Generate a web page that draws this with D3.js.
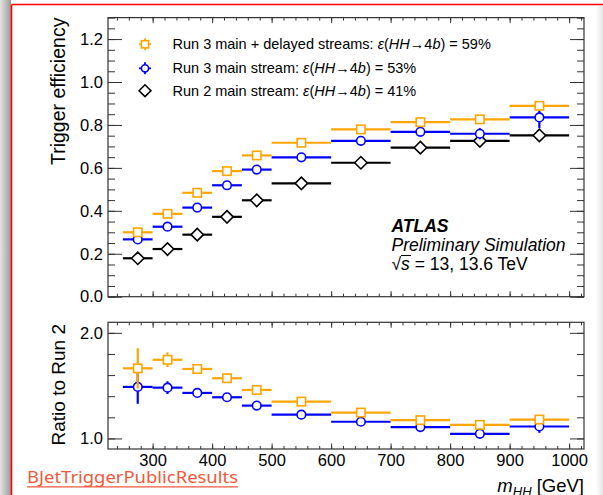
<!DOCTYPE html>
<html><head><meta charset="utf-8">
<script src="https://cdn.jsdelivr.net/npm/d3@7"></script>
<style>body{margin:0;background:#fff}svg{display:block}</style>
</head><body>
<script>
// ---- data ----
const binLo   = [250,300,350,400,450,500,600,700,800,900];
const binHi   = [300,350,400,450,500,600,700,800,900,1000];
const effRun3Delayed = [0.300,0.386,0.484,0.585,0.658,0.717,0.779,0.813,0.826,0.889];
const effRun3Main    = [0.267,0.326,0.415,0.519,0.592,0.649,0.726,0.768,0.759,0.835];
const effRun2Main    = [0.179,0.222,0.289,0.372,0.449,0.528,0.624,0.694,0.726,0.751];
const errRun3Delayed = [0.012,0.010,0.010,0.010,0.010,0.010,0.012,0.014,0.016,0.022];
const errRun3Main    = [0.012,0.010,0.010,0.010,0.010,0.010,0.012,0.014,0.026,0.050];
const errRun2Main    = [0.008,0.008,0.008,0.008,0.008,0.008,0.010,0.012,0.015,0.018];
const ratioDelayed   = [1.664,1.745,1.658,1.570,1.459,1.349,1.245,1.173,1.129,1.179];
const ratioMain      = [1.488,1.481,1.431,1.390,1.311,1.225,1.158,1.108,1.044,1.113];
const errRatioDelayed= [0.190,0.070,0.025,0.020,0.020,0.015,0.015,0.018,0.020,0.030];
const errRatioMain   = [0.160,0.060,0.020,0.020,0.018,0.015,0.015,0.018,0.025,0.060];
const legendLabels = ["Run 3 main + delayed streams: ", "Run 3 main stream: ", "Run 2 main stream: "];
const legendEff = ["59%","53%","41%"];
const xTicks = [300,400,500,600,700,800,900,1000];
const yTopTicks = [0,0.2,0.4,0.6,0.8,1.0,1.2];
const yBotTicks = [1.0,2.0];

const ORANGE = "#ffa500", BLUE = "#0000ff", BLACK = "#000000";
const W = 603, H = 495;
const svg = d3.select("body").append("svg").attr("width",W).attr("height",H)
  .style("font-family","'Liberation Sans', Arial, Helvetica, sans-serif");

// background frame decorations
const defs = svg.append("defs");
const g1 = defs.append("linearGradient").attr("id","shadeL").attr("x1",0).attr("x2",1).attr("y1",0).attr("y2",0);
g1.append("stop").attr("offset","0%").attr("stop-color","#e4e4e4");
g1.append("stop").attr("offset","100%").attr("stop-color","#9a9a9a");
svg.append("rect").attr("x",0).attr("y",0).attr("width",11).attr("height",H).attr("fill","url(#shadeL)");
const g2 = defs.append("linearGradient").attr("id","shadeR").attr("x1",0).attr("x2",1).attr("y1",0).attr("y2",0);
g2.append("stop").attr("offset","0%").attr("stop-color","#ffffff");
g2.append("stop").attr("offset","100%").attr("stop-color","#e6e6e6");
svg.append("rect").attr("x",596).attr("y",6).attr("width",7).attr("height",H).attr("fill","url(#shadeR)");
svg.append("line").attr("x1",11.5).attr("x2",11.5).attr("y1",4.5).attr("y2",H).attr("stroke","#ff0000").attr("stroke-width",1.6);
svg.append("line").attr("x1",11.5).attr("x2",W).attr("y1",4.5).attr("y2",4.5).attr("stroke","#ff0000").attr("stroke-width",1.6);

// scales
const x = d3.scaleLinear().domain([225,1025]).range([108,584]);
const yT = d3.scaleLinear().domain([0,1.3]).range([296.7,17.6]);
const yB = d3.scaleLinear().domain([0.9,2.1]).range([449,322.3]);

function frameAxes(y, top, bottom, yMajor, yMinorStep, yDom, showXLabels){
  const gA = svg.append("g");
  const xMinor = d3.range(240, 1025, 20);
  const yMinor = d3.range(yDom[0], yDom[1]+1e-9, yMinorStep).map(v=>+v.toFixed(3));
  gA.append("g").attr("transform",`translate(0,${bottom})`)
    .call(d3.axisTop(x).tickValues(xMinor).tickSize(3).tickFormat(""));
  gA.append("g").attr("transform",`translate(0,${bottom})`)
    .call(d3.axisTop(x).tickValues(xTicks).tickSize(5.5).tickFormat(""));
  gA.append("g").attr("transform",`translate(0,${top})`)
    .call(d3.axisBottom(x).tickValues(xMinor).tickSize(3).tickFormat(""));
  gA.append("g").attr("transform",`translate(0,${top})`)
    .call(d3.axisBottom(x).tickValues(xTicks).tickSize(5.5).tickFormat(""));
  gA.append("g").attr("transform",`translate(108,0)`)
    .call(d3.axisRight(y).tickValues(yMinor).tickSize(7).tickFormat(""));
  gA.append("g").attr("transform",`translate(108,0)`)
    .call(d3.axisRight(y).tickValues(yMajor).tickSize(14).tickFormat(""));
  gA.append("g").attr("transform",`translate(584,0)`)
    .call(d3.axisLeft(y).tickValues(yMinor).tickSize(7).tickFormat(""));
  gA.append("g").attr("transform",`translate(584,0)`)
    .call(d3.axisLeft(y).tickValues(yMajor).tickSize(14).tickFormat(""));
  gA.selectAll(".domain").remove();
  gA.selectAll("line").attr("stroke","#333").attr("stroke-width",1);
  gA.append("g").attr("transform",`translate(108,0)`)
    .call(d3.axisLeft(y).tickValues(yMajor).tickSize(0).tickPadding(5).tickFormat(d3.format(".1f")))
    .call(g=>g.select(".domain").remove())
    .selectAll("text").attr("font-size",16.5).attr("fill","#000").attr("font-family","'Liberation Sans', Arial, sans-serif");
  if(showXLabels){
    gA.append("g").attr("transform",`translate(0,${bottom})`)
      .call(d3.axisBottom(x).tickValues(xTicks).tickSize(0).tickPadding(5).tickFormat(d3.format("d")))
      .call(g=>g.select(".domain").remove())
      .selectAll("text").attr("font-size",16.5).attr("fill","#000").attr("font-family","'Liberation Sans', Arial, sans-serif");
  }
  svg.append("rect").attr("x",108).attr("y",top).attr("width",584-108).attr("height",bottom-top)
    .attr("fill","none").attr("stroke","#333").attr("stroke-width",1.2);
}

frameAxes(yT, 17.6, 296.7, yTopTicks, 0.05, [0,1.3], false);
frameAxes(yB, 322.3, 449, yBotTicks, 0.2, [1.0,2.0], true);

function marker(g, type, cx, cy, color, s){
  if(type==="square"){
    g.append("rect").attr("x",cx-s).attr("y",cy-s).attr("width",2*s).attr("height",2*s)
      .attr("fill","#fff").attr("stroke",color).attr("stroke-width",1.6);
  } else if(type==="circle"){
    g.append("circle").attr("cx",cx).attr("cy",cy).attr("r",s)
      .attr("fill","#fff").attr("stroke",color).attr("stroke-width",1.6);
  } else {
    const d = s*1.35;
    g.append("path").attr("d",`M${cx-d},${cy}L${cx},${cy-d}L${cx+d},${cy}L${cx},${cy+d}Z`)
      .attr("fill","#fff").attr("stroke",color).attr("stroke-width",1.6);
  }
}

function series(y, vals, errs, color, type, s){
  const g = svg.append("g");
  vals.forEach((v,i)=>{
    const xc = x((binLo[i]+binHi[i])/2);
    g.append("line").attr("x1",x(binLo[i])).attr("x2",x(binHi[i])).attr("y1",y(v)).attr("y2",y(v))
      .attr("stroke",color).attr("stroke-width",2.2);
    g.append("line").attr("x1",xc).attr("x2",xc).attr("y1",y(v-errs[i])).attr("y2",y(v+errs[i]))
      .attr("stroke",color).attr("stroke-width",2.2);
  });
  vals.forEach((v,i)=>{
    marker(g, type, x((binLo[i]+binHi[i])/2), y(v), color, s);
  });
}

series(yT, effRun2Main, errRun2Main, BLACK, "diamond", 4.6);
series(yT, effRun3Main, errRun3Main, BLUE, "circle", 4.3);
series(yT, effRun3Delayed, errRun3Delayed, ORANGE, "square", 4.2);
series(yB, ratioMain, errRatioMain, BLUE, "circle", 4.3);
series(yB, ratioDelayed, errRatioDelayed, ORANGE, "square", 4.2);

// legend
const legColors = [ORANGE, BLUE, BLACK], legTypes = ["square","circle","diamond"];
const legY = [44.3, 68.3, 90.7];
legendLabels.forEach((lab,i)=>{
  const g = svg.append("g");
  const cx = 145, cy = legY[i];
  if(i<2){
    g.append("line").attr("x1",cx-6).attr("x2",cx+6).attr("y1",cy).attr("y2",cy).attr("stroke",legColors[i]).attr("stroke-width",1.8);
    g.append("line").attr("x1",cx).attr("x2",cx).attr("y1",cy-6).attr("y2",cy+6).attr("stroke",legColors[i]).attr("stroke-width",1.8);
  }
  marker(g, legTypes[i], cx, cy, legColors[i], i===2?4.4:3.6);
  const t = g.append("text").attr("x",172.5).attr("y",cy+5).attr("font-size",14.5).attr("fill","#000");
  t.append("tspan").text(lab);
  t.append("tspan").attr("font-style","italic").text("ε");
  t.append("tspan").text("(");
  t.append("tspan").attr("font-style","italic").text("HH");
  t.append("tspan").text("→4");
  t.append("tspan").attr("font-style","italic").text("b");
  t.append("tspan").text(") = " + legendEff[i]);
});

// ATLAS label
svg.append("text").attr("x",391.5).attr("y",232).attr("font-size",17.5).attr("font-weight","bold")
  .attr("font-style","italic").text("ATLAS");
svg.append("text").attr("x",391.5).attr("y",251).attr("font-size",17.5).attr("font-style","italic")
  .text("Preliminary Simulation");
const sq = svg.append("text").attr("x",391.5).attr("y",270).attr("font-size",17.5);
sq.append("tspan").text("√");
sq.append("tspan").attr("font-style","italic").text("s");
sq.append("tspan").text(" = 13, 13.6 TeV");
svg.append("line").attr("x1",401).attr("x2",411).attr("y1",255.5).attr("y2",255.5).attr("stroke","#000").attr("stroke-width",1);

// axis titles
svg.append("text").attr("transform","translate(65,17.6) rotate(-90)").attr("text-anchor","end")
  .attr("font-size",19.5).text("Trigger efficiency");
svg.append("text").attr("transform","translate(65,324) rotate(-90)").attr("text-anchor","end")
  .attr("font-size",19).text("Ratio to Run 2");
const xt = svg.append("text").attr("x",584).attr("y",491.5).attr("text-anchor","end").attr("font-size",18.5);
xt.append("tspan").attr("font-style","italic").text("m");
xt.append("tspan").attr("font-style","italic").attr("font-size",13).attr("dy",4).text("HH");
xt.append("tspan").attr("dy",-4).text(" [GeV]");

// link text
svg.append("text").attr("x",27).attr("y",482.5).attr("font-size",17).attr("fill","#f0593b")
  .attr("font-family","'Noto Sans', 'Open Sans', sans-serif")
  .attr("textLength",211).attr("lengthAdjust","spacingAndGlyphs")
  .text("BJetTriggerPublicResults");
svg.append("line").attr("x1",27).attr("x2",238).attr("y1",486.8).attr("y2",486.8).attr("stroke","#f0593b").attr("stroke-width",1.3);
</script>
</body></html>
